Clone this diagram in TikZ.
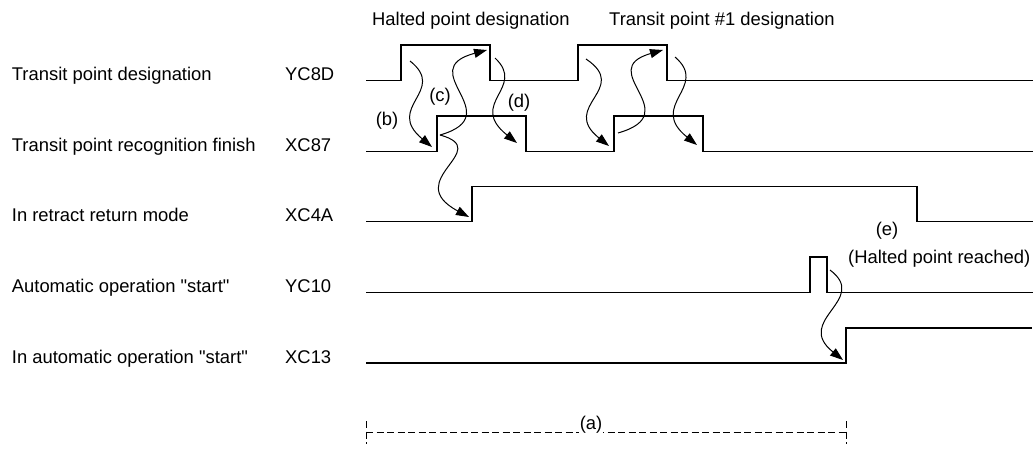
\documentclass[tikz,border=0pt]{standalone}
\usepackage{fontspec}
\setmainfont{Liberation Sans}
\usetikzlibrary{arrows.meta}
\begin{document}
\begin{tikzpicture}[x=1pt,y=-1pt,
  sig/.style={line width=1.2pt, line join=miter},
  wave/.style={line width=1pt, -{Triangle[length=13pt,width=9pt]}},
  lbl/.style={anchor=base west, inner sep=0pt, font=\fontsize{18.4}{22}\selectfont},
  tag/.style={inner sep=1pt, font=\fontsize{18.4}{22}\selectfont},
  dim/.style={line width=0.9pt, dash pattern=on 7pt off 3.5pt}
]
\useasboundingbox (0,0) rectangle (1033,450);
\def\ya{80.5}\def\yb{151.5}\def\yc{221.7}\def\yd{292.3}\def\ye{363}
% row labels
\node[lbl] (l1) at (11.7,\ya) {Transit point designation};
\node[lbl] (l2) at (11.7,\yb) {Transit point recognition finish};
\node[lbl] (l3) at (11.7,\yc) {In retract return mode};
\node[lbl] (l4) at (11.7,\yd) {Automatic operation \textquotedbl start\textquotedbl};
\node[lbl] (l5) at (11.7,\ye) {In automatic operation \textquotedbl start\textquotedbl};
\node[lbl] (n1) at (285,\ya) {YC8D};
\node[lbl] (n2) at (285,\yb) {XC87};
\node[lbl] (n3) at (285,\yc) {XC4A};
\node[lbl] (n4) at (285,\yd) {YC10};
\node[lbl] (n5) at (285,\ye) {XC13};
% signals
\draw[sig] (366,\ya) -| (401,45) -| (490,\ya) -| (578,45) -| (667,\ya) -- (1033,\ya);
\draw[sig] (366,\yb) -| (437,116) -| (526,\yb) -| (614,116) -| (703,\yb) -- (1033,\yb);
\draw[sig] (366,\yc) -| (472,186.5) -| (917,\yc) -- (1033,\yc);
\draw[sig] (366,\yd) -| (810,257) -| (827,\yd) -- (1033,\yd);
\draw[sig] (366,\ye) -| (846,328) -- (1032,328);
% top labels
\node[lbl] (t1) at (372,25) {Halted point designation};
\node[lbl] (t2) at (609,25) {Transit point \#1 designation};
% tags
\node[tag] (tb) at (387,121) {(b)};
\node[tag] (tc) at (440,97) {(c)};
\node[tag] (td) at (519,103) {(d)};
\node[tag] (te) at (887,231) {(e)};
\node[lbl] (th) at (848,263) {(Halted point reached)};
% wavy arrows
\coordinate (a1s) at (410,61);  \coordinate (a1e) at (432,147);
\coordinate (a2s) at (440,135); \coordinate (a2e) at (487,50);
\coordinate (a3e) at (469,217);
\coordinate (a4s) at (495,58);  \coordinate (a4e) at (517,143);
\coordinate (a5s) at (586,59);  \coordinate (a5e) at (609,146);
\coordinate (a6s) at (618,133); \coordinate (a6e) at (663,50);
\coordinate (a7s) at (675,57);  \coordinate (a7e) at (697,145);
\coordinate (a8s) at (830,270); \coordinate (a8e) at (843,360);
\draw[wave] (a1s) .. controls +(38,30) and +(-48,-40) .. (a1e);
\draw[wave] (a2s) .. controls +(70,-20) and +(-75,20) .. (a2e);
\draw[wave] (a2s) .. controls +(55,15) and +(-69,-37) .. (a3e);
\draw[wave] (a4s) .. controls +(32,30) and +(-50,-40) .. (a4e);
\draw[wave] (a5s) .. controls +(45,30) and +(-50,-40) .. (a5e);
\draw[wave] (a6s) .. controls +(70,-20) and +(-70,20) .. (a6e);
\draw[wave] (a7s) .. controls +(35,30) and +(-50,-40) .. (a7e);
\draw[wave] (a8s) .. controls +(40,30) and +(-50,-40) .. (a8e);
% dimension (a)
\coordinate (d1) at (366,432); \coordinate (d2) at (846,432);
\draw[dim] (d1) -- (d2);
\draw[dim] (366,421) -- (366,444);
\draw[dim] (846,421) -- (846,444);
\node[tag, fill=white] (ta) at (591,425) {(a)};
\end{tikzpicture}
\end{document}
